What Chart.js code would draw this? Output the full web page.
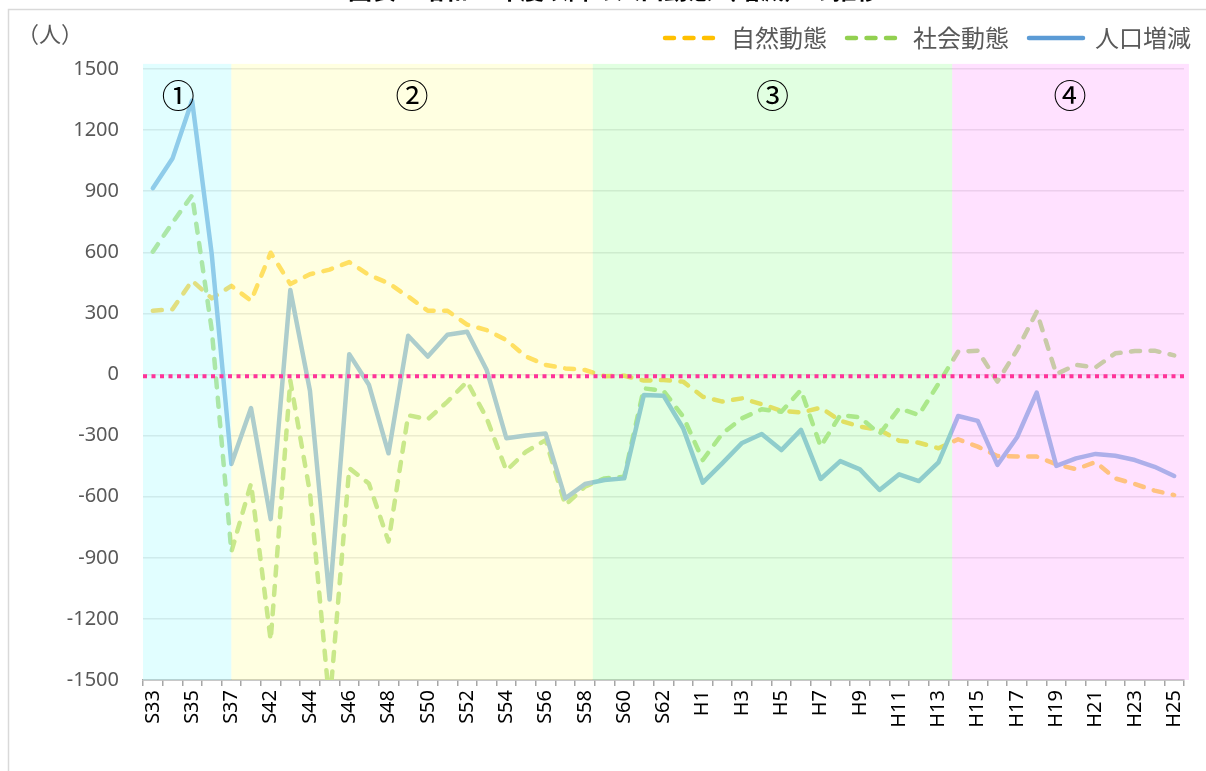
<!DOCTYPE html>
<html>
<head>
<meta charset="utf-8">
<script src="https://cdn.jsdelivr.net/npm/chart.js@4"></script>
<style>
html,body{margin:0;padding:0;background:#fff;overflow:hidden}
#wrap{width:1206px;height:771px;position:relative}
</style>
</head>
<body>
<div id="wrap"><canvas id="c" width="1206" height="771"></canvas></div>
<script>
// ---- data ----
const categories = ['S33','S34','S35','S36','S37','S41','S42','S43','S44','S45','S46','S47','S48','S49','S50','S51','S52','S53','S54','S55','S56','S57','S58','S59','S60','S61','S62','S63',
  'H1','H2','H3','H4','H5','H6','H7','H8','H9','H10','H11','H12','H13','H14','H15','H16','H17','H18','H19','H20','H21','H22','H23','H24','H25'];
const naturalChange = [313,320,461,374,435,362,598,444,492,515,552,489,448,383,313,313,245,218,169,88,47,30,22,-8,-6,-30,-27,-35,
  -109,-133,-117,-146,-178,-187,-163,-227,-256,-272,-325,-335,-362,-318,-354,-400,-403,-403,-441,-465,-430,-510,-538,-570,-592];
const socialChange = [603,745,880,220,-870,-535,-1305,-30,-580,-1620,-460,-535,-820,-200,-220,-133,-35,-215,-472,-379,-322,-641,-551,-510,-502,-68,-80,-207,
  -420,-289,-215,-171,-183,-76,-354,-199,-210,-292,-166,-199,-45,112,117,-35,120,308,2,47,35,104,115,117,94];
const populationChange = [915,1060,1345,590,-440,-165,-710,415,-80,-1105,100,-50,-387,190,88,195,210,22,-313,-300,-290,-608,-538,-518,-510,-101,-104,-264,
  -531,-435,-336,-292,-371,-272,-513,-425,-466,-567,-490,-523,-431,-204,-228,-444,-308,-89,-449,-412,-390,-399,-420,-453,-498];
const seriesNames = ['自然動態','社会動態','人口増減'];
const yMin = -1500, yMax = 1500, yStep = 300;
// period bands (in category units) and their labels
const periodLabels = ['①','②','③','④'];
const periodStart = [-0.5, 4, 22.4, 40.7];
const periodEnd = [4, 22.4, 40.7, 52.75];
const periodLabelAt = [1.3, 13.2, 31.55, 46.7];
const periodLabelValue = 1372;
const periodTopValue = 1525;
const referenceLineValue = -8;
const titleText = '図表　昭和33年度以降の人口動態（増減）の推移';
const unitText = '（人）';

// ---- styles ----
const FONT = "'Noto Sans', 'Noto Sans CJK JP', sans-serif";
const CJK = "'Noto Sans CJK JP', 'Noto Sans', sans-serif";
const periodColors = ['rgba(195,253,255,0.5)','rgba(255,255,195,0.5)','rgba(195,255,195,0.5)','rgba(255,195,255,0.5)'];

const overlayPlugin = {
  id: 'overlay',
  afterDatasetsDraw(chart) {
    const {ctx, scales: {x, y}} = chart;
    ctx.save();
    const top = y.getPixelForValue(periodTopValue);
    const bottom = y.getPixelForValue(yMin);
    for (let i = 0; i < periodStart.length; i++) {
      const l = x.getPixelForValue(periodStart[i]);
      const r = x.getPixelForValue(periodEnd[i]);
      ctx.fillStyle = periodColors[i];
      ctx.fillRect(l, top, r - l, bottom - top);
    }
    // reference line
    const zy = y.getPixelForValue(referenceLineValue);
    ctx.strokeStyle = '#FF3399';
    ctx.lineWidth = 4;
    ctx.setLineDash([4, 4.5]);
    ctx.beginPath();
    ctx.moveTo(x.left, zy);
    ctx.lineTo(x.right + 3, zy);
    ctx.stroke();
    ctx.setLineDash([]);
    // period labels
    ctx.fillStyle = '#000';
    ctx.font = '33px ' + CJK;
    ctx.textAlign = 'center';
    ctx.textBaseline = 'middle';
    const ly = y.getPixelForValue(periodLabelValue);
    for (let i = 0; i < periodLabels.length; i++) {
      ctx.fillText(periodLabels[i], x.getPixelForValue(periodLabelAt[i]), ly);
    }
    ctx.restore();
  },
  afterDraw(chart) {
    const ctx = chart.ctx;
    ctx.save();
    // frame
    ctx.strokeStyle = '#D9D9D9';
    ctx.lineWidth = 1.5;
    ctx.strokeRect(8.5, 9.5, 1400, 1000);
    // title (clipped at top)
    ctx.fillStyle = '#000';
    ctx.font = 'bold 24px ' + CJK;
    ctx.textAlign = 'left';
    ctx.textBaseline = 'alphabetic';
    ctx.fillText(titleText, 348, -1);
    // unit
    ctx.fillStyle = '#595959';
    ctx.font = '22px ' + CJK;
    ctx.textBaseline = 'middle';
    ctx.fillText(unitText, 17, 34);
    ctx.restore();
  }
};

const legendGen = function(chart) {
  const items = Chart.defaults.plugins.legend.labels.generateLabels(chart);
  items.forEach(it => {
    const ds = chart.data.datasets[it.datasetIndex];
    it.lineDash = ds.borderDash || [];
    it.lineWidth = ds.borderWidth;
    it.lineCap = ds.borderCapStyle || 'butt';
    it.strokeStyle = ds.borderColor;
    it.pointStyle = 'line';
  });
  return items;
};

new Chart(document.getElementById('c'), {
  type: 'line',
  data: {
    labels: categories,
    datasets: [
      {label: seriesNames[0], data: naturalChange, borderColor: '#FFC000', backgroundColor: '#FFC000', borderWidth: 4.5,
        borderDash: [9, 10.5], borderCapStyle: 'round', borderJoinStyle: 'round', pointRadius: 0, tension: 0, order: 3},
      {label: seriesNames[1], data: socialChange, borderColor: '#92D050', backgroundColor: '#92D050', borderWidth: 4.5,
        borderDash: [9, 10.5], borderCapStyle: 'round', borderJoinStyle: 'round', pointRadius: 0, tension: 0, order: 2},
      {label: seriesNames[2], data: populationChange, borderColor: '#5B9BD5', backgroundColor: '#5B9BD5', borderWidth: 4.5,
        borderCapStyle: 'round', borderJoinStyle: 'round', pointRadius: 0, tension: 0, order: 1}
    ]
  },
  options: {
    responsive: false,
    animation: false,
    events: [],
    layout: {padding: {top: 6, right: -5, left: 0, bottom: 0}},
    plugins: {
      title: {display: false},
      tooltip: {enabled: false},
      legend: {
        display: true,
        position: 'top',
        align: 'end',
        labels: {
          usePointStyle: true,
          pointStyle: 'line',
          pointStyleWidth: 54,
          padding: 20,
          color: '#595959',
          font: {family: CJK, size: 24},
          generateLabels: legendGen,
          sort: (a, b) => a.datasetIndex - b.datasetIndex
        }
      }
    },
    scales: {
      x: {
        type: 'category',
        offset: true,
        grid: {display: true, drawOnChartArea: false, drawTicks: true, tickLength: 6, offset: true, color: '#A6A6A6', lineWidth: 1.5},
        border: {display: true, color: '#A6A6A6', width: 1.5},
        ticks: {
          autoSkip: false, minRotation: 90, maxRotation: 90, padding: 4,
          color: '#000', font: {family: FONT, size: 20},
          callback: function(v, i) { return i % 2 === 0 ? this.getLabelForValue(v) : ''; }
        },
        afterFit(s) { s.height = 91; }
      },
      xTop: {
        type: 'linear', axis: 'x', position: 'top', display: true,
        grid: {display: false}, border: {display: false}, ticks: {display: false},
        afterFit(s) { s.height = 9; }
      },
      y: {
        type: 'linear', position: 'left', min: yMin, max: yMax,
        grid: {color: '#D9D9D9', lineWidth: 1.5, drawTicks: false},
        border: {display: false},
        ticks: {stepSize: yStep, padding: 24, color: '#595959', font: {family: FONT, size: 20},
          callback: v => String(v)},
        afterFit(s) { s.width = 143; }
      },
      yRight: {
        type: 'linear', position: 'right', display: true,
        grid: {display: false}, border: {display: false}, ticks: {display: false},
        afterFit(s) { s.width = 27; }
      }
    }
  },
  plugins: [overlayPlugin]
});
</script>
</body>
</html>
